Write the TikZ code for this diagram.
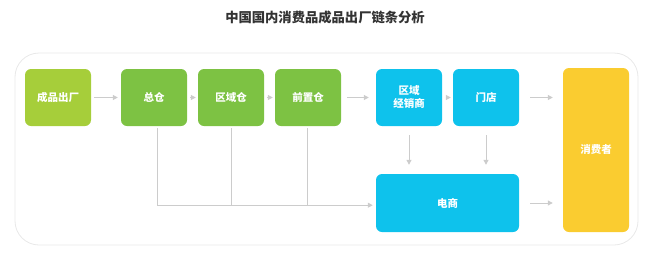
\documentclass[tikz,border=0pt]{standalone}
\usepackage{fontspec}
\newfontfamily\cjk{Noto Sans CJK SC}
\definecolor{limegreen}{RGB}{166,206,58}
\definecolor{leafgreen}{RGB}{125,194,67}
\definecolor{skyblue}{RGB}{14,194,236}
\definecolor{sunyellow}{RGB}{250,204,48}
\definecolor{flowgray}{RGB}{204,204,204}
\definecolor{framegray}{RGB}{232,232,232}
\definecolor{titlegray}{RGB}{51,51,51}
\usepackage{tikz}
\usetikzlibrary{arrows.meta,calc}
\tikzset{
    stagebox/.style={rounded corners=6pt, text=white, font=\cjk\bfseries\fontsize{10.5}{13}\selectfont,
        minimum width=66pt, minimum height=57pt, inner sep=0pt, align=center},
    flow/.style={draw=flowgray, line width=1pt, -{Triangle[length=5pt,width=5pt]}},
    branch/.style={draw=flowgray, line width=1pt}
}

\begin{document}
\begin{tikzpicture}[x=1pt,y=-1pt]
            \useasboundingbox (0,0) rectangle (651,255);
            % outer frame
            \draw[framegray, line width=0.8pt, rounded corners=24pt] (15,53) rectangle (638,245);
            \node[font=\cjk\bfseries\fontsize{13.3}{15}\selectfont, text=titlegray] (title) at (325,17) {中国国内消费品成品出厂链条分析};
            % upper row
            \node[stagebox, fill=limegreen] (factory) at (58,97.5) {成品出厂};
            \node[stagebox, fill=leafgreen] (mainwh) at (154,97.5) {总仓};
            \node[stagebox, fill=leafgreen] (regionwh) at (231,97.5) {区域仓};
            \node[stagebox, fill=leafgreen] (frontwh) at (308,97.5) {前置仓};
            \node[stagebox, fill=skyblue] (dealer) at (409,97.5) {区域\\经销商};
            \node[stagebox, fill=skyblue] (store) at (486,97.5) {门店};
            % lower row and consumer
            \node[stagebox, fill=skyblue, minimum width=143pt, minimum height=58pt] (ecom) at (447.5,203) {电商};
            \node[stagebox, fill=sunyellow, minimum height=164pt] (consumer) at (596,150) {消费者};
            % arrows
            \draw[flow, shorten <=3pt, shorten >=3pt] (factory) -- (mainwh);
            \draw[flow, shorten <=3pt, shorten >=2pt] (mainwh) -- (regionwh);
            \draw[flow, shorten <=3pt, shorten >=2pt] (regionwh) -- (frontwh);
            \draw[flow, shorten <=6pt, shorten >=7pt] (frontwh) -- (dealer);
            \draw[flow, shorten <=5pt, shorten >=2pt] (dealer) -- (store);
            \draw[flow, shorten <=11pt, shorten >=10pt] (store) -- (store -| consumer.west);
            \draw[flow, shorten <=11pt, shorten >=10pt] (ecom) -- (ecom -| consumer.west);
            \draw[flow, shorten <=9pt, shorten >=9pt] (dealer) -- (dealer |- ecom.north);
            \draw[flow, shorten <=9pt, shorten >=9pt] (store) -- (store |- ecom.north);
            \coordinate (bend) at ($(mainwh.south)+(3,79)$);
            \draw[flow, shorten >=3pt] ($(mainwh.south)+(3,2)$) -- (bend) -- (bend -| ecom.west);
            \draw[branch] ($(regionwh.south)+(0,2)$) -- (regionwh |- bend);
            \draw[branch] ($(frontwh.south)+(-1,2)$) -- ($(frontwh.south |- bend)+(-1,0)$);
        \end{tikzpicture}
\end{document}
